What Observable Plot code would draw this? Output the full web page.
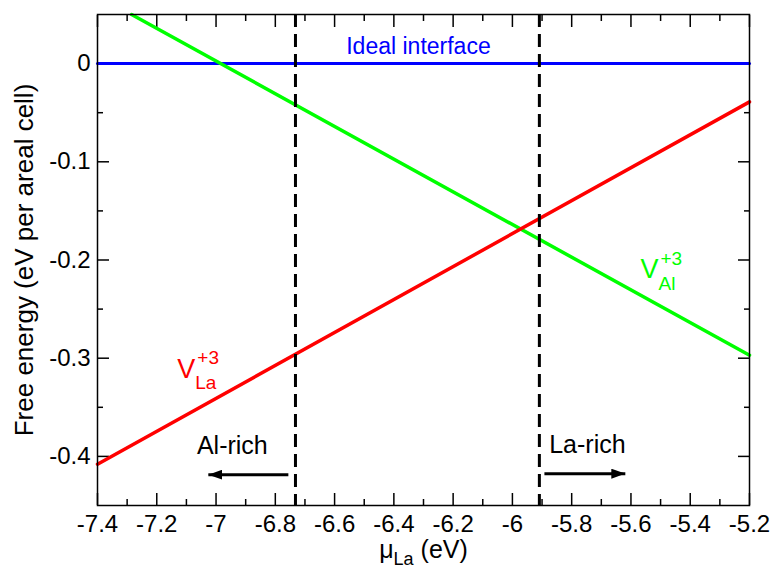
<!DOCTYPE html>
<html>
<head>
<meta charset="utf-8">
<script src="https://cdn.jsdelivr.net/npm/d3@7"></script>
<script src="https://cdn.jsdelivr.net/npm/@observablehq/plot@0.6"></script>
<style>
  html, body { margin: 0; padding: 0; background: #fff; }
  #chart { width: 776px; height: 569px; }
</style>
</head>
<body>
<div id="chart"></div>
<script>
// ---- data ----
const xDomain = [-7.4, -5.2];
const yDomain = [-0.45, 0.05];

const idealX = [-7.4, -5.2];
const idealY = [0, 0];
const vAlX = [-7.285, -5.2];
const vAlY = [0.05, -0.297];
const vLaX = [-7.4, -5.2];
const vLaY = [-0.408, -0.039];

const boundaryX = [-6.732, -5.909];

const xTicks = [-7.4, -7.2, -7.0, -6.8, -6.6, -6.4, -6.2, -6.0, -5.8, -5.6, -5.4, -5.2];
const xTickLabels = ["-7.4", "-7.2", "-7", "-6.8", "-6.6", "-6.4", "-6.2", "-6", "-5.8", "-5.6", "-5.4", "-5.2"];
const xMinor = [-7.3, -7.1, -6.9, -6.7, -6.5, -6.3, -6.1, -5.9, -5.7, -5.5, -5.3];
const yTicks = [-0.4, -0.3, -0.2, -0.1, 0];
const yTickLabels = ["-0.4", "-0.3", "-0.2", "-0.1", "0"];
const yMinor = [-0.35, -0.25, -0.15, -0.05];

// annotations
const labelIdeal = {x: -6.317, y: 0.017, text: "Ideal interface"};
const labelAlRich = {x: -6.945, y: -0.389, text: "Al-rich"};
const labelLaRich = {x: -5.747, y: -0.388, text: "La-rich"};
const arrowAl = {x1: -6.756, x2: -7.026, y: -0.4186};
const arrowLa = {x1: -5.892, x2: -5.619, y: -0.4176};
const vLaLabel = {x: -7.07, y: -0.311, main: "V", sup: "+3", sub: "La"};
const vAlLabel = {x: -5.507, y: -0.2098, main: "V", sup: "+3", sub: "Al"};

const toPts = (xs, ys) => xs.map((x, i) => ({x, y: ys[i]}));

function headMarker(color, context) {
  const doc = (context && context.document) || document;
  const ns = "http://www.w3.org/2000/svg";
  const m = doc.createElementNS(ns, "marker");
  m.setAttribute("viewBox", "-14 -5 14 10");
  m.setAttribute("refX", "0");
  m.setAttribute("refY", "0");
  m.setAttribute("markerWidth", "14");
  m.setAttribute("markerHeight", "10");
  m.setAttribute("markerUnits", "userSpaceOnUse");
  m.setAttribute("orient", "auto");
  const p = doc.createElementNS(ns, "path");
  p.setAttribute("d", "M-14,-5L0,0L-14,5Z");
  p.setAttribute("fill", color);
  p.setAttribute("stroke", "none");
  m.appendChild(p);
  return m;
}

const font = "'Liberation Sans', Arial, Helvetica, sans-serif";
const fs = 24;
const green = "#00ff00";

const plot = Plot.plot({
  width: 776,
  height: 569,
  marginLeft: 97,
  marginRight: 27,
  marginTop: 14,
  marginBottom: 64,
  style: {fontFamily: font, fontSize: fs + "px", background: "#fff", color: "#000", overflow: "visible"},
  x: {domain: xDomain, label: null},
  y: {domain: yDomain, label: null},
  marks: [
    // tick labels
    Plot.axisX({anchor: "bottom", ticks: xTicks, tickSize: 0, tickPadding: 9, tickFormat: (d, i) => xTickLabels[i], fontSize: fs, label: null}),
    Plot.axisY({anchor: "left", ticks: yTicks, tickSize: 0, tickPadding: 7, tickFormat: (d, i) => yTickLabels[i], fontSize: fs, label: null}),
    // inward ticks
    Plot.axisX({anchor: "bottom", ticks: xTicks, tickSize: -12, fill: "none", strokeWidth: 1.5, label: null}),
    Plot.axisX({anchor: "bottom", ticks: xMinor, tickSize: -6, fill: "none", strokeWidth: 1.5, label: null}),
    Plot.axisX({anchor: "top", ticks: xTicks, tickSize: -12, fill: "none", strokeWidth: 1.5, label: null}),
    Plot.axisX({anchor: "top", ticks: xMinor, tickSize: -6, fill: "none", strokeWidth: 1.5, label: null}),
    Plot.axisY({anchor: "left", ticks: yTicks, tickSize: -12, fill: "none", strokeWidth: 1.5, label: null}),
    Plot.axisY({anchor: "left", ticks: yMinor, tickSize: -6, fill: "none", strokeWidth: 1.5, label: null}),
    Plot.axisY({anchor: "right", ticks: yTicks, tickSize: -12, fill: "none", strokeWidth: 1.5, label: null}),
    Plot.axisY({anchor: "right", ticks: yMinor, tickSize: -6, fill: "none", strokeWidth: 1.5, label: null}),
    // series
    Plot.line(toPts(idealX, idealY), {x: "x", y: "y", stroke: "#0000ff", strokeWidth: 3}),
    Plot.line(toPts(vAlX, vAlY), {x: "x", y: "y", stroke: green, strokeWidth: 3.5}),
    Plot.line(toPts(vLaX, vLaY), {x: "x", y: "y", stroke: "#ff0000", strokeWidth: 3.5}),
    // boundaries
    Plot.ruleX(boundaryX, {stroke: "#000", strokeWidth: 3, strokeDasharray: "13,7"}),
    // arrows
    Plot.link([arrowAl, arrowLa], {x1: "x1", x2: "x2", y1: "y", y2: "y", stroke: "#000", strokeWidth: 3, markerEnd: headMarker}),
    // annotations
    Plot.text([labelIdeal], {x: "x", y: "y", text: "text", fill: "#0000ff", fontSize: 23}),
    Plot.text([labelAlRich, labelLaRich], {x: "x", y: "y", text: "text", fill: "#000", fontSize: 25}),
    Plot.text([vLaLabel], {x: "x", y: "y", text: "main", fill: "#ff0000", fontSize: 27, textAnchor: "end"}),
    Plot.text([vLaLabel], {x: "x", y: "y", text: "sup", fill: "#ff0000", fontSize: 19, textAnchor: "start", dx: 2, dy: -11}),
    Plot.text([vLaLabel], {x: "x", y: "y", text: "sub", fill: "#ff0000", fontSize: 19, textAnchor: "start", dx: 0, dy: 14}),
    Plot.text([vAlLabel], {x: "x", y: "y", text: "main", fill: green, fontSize: 27, textAnchor: "end"}),
    Plot.text([vAlLabel], {x: "x", y: "y", text: "sup", fill: green, fontSize: 19, textAnchor: "start", dx: 2, dy: -11}),
    Plot.text([vAlLabel], {x: "x", y: "y", text: "sub", fill: green, fontSize: 19, textAnchor: "start", dx: 0, dy: 14}),
    // axis titles
    Plot.text(["Free energy (eV per areal cell)"], {frameAnchor: "left", dx: -73, rotate: -90, textAnchor: "middle", fontSize: 26, fill: "#000", text: d => d}),
    Plot.text(["μLa (eV)"], {frameAnchor: "bottom", dy: 52, textAnchor: "middle", fontSize: 25, fill: "#000", text: d => d, className: "xlabel"}),
    Plot.frame({stroke: "#000", strokeWidth: 1.5})
  ]
});

document.getElementById("chart").appendChild(plot);

// subscript for the x-axis title
d3.select(plot).selectAll(".xlabel text").each(function () {
  const t = d3.select(this);
  t.text(null);
  t.append("tspan").text("μ");
  t.append("tspan").attr("dy", 7).attr("font-size", 18).text("La");
  t.append("tspan").attr("dy", -7).text(" (eV)");
});
</script>
</body>
</html>
